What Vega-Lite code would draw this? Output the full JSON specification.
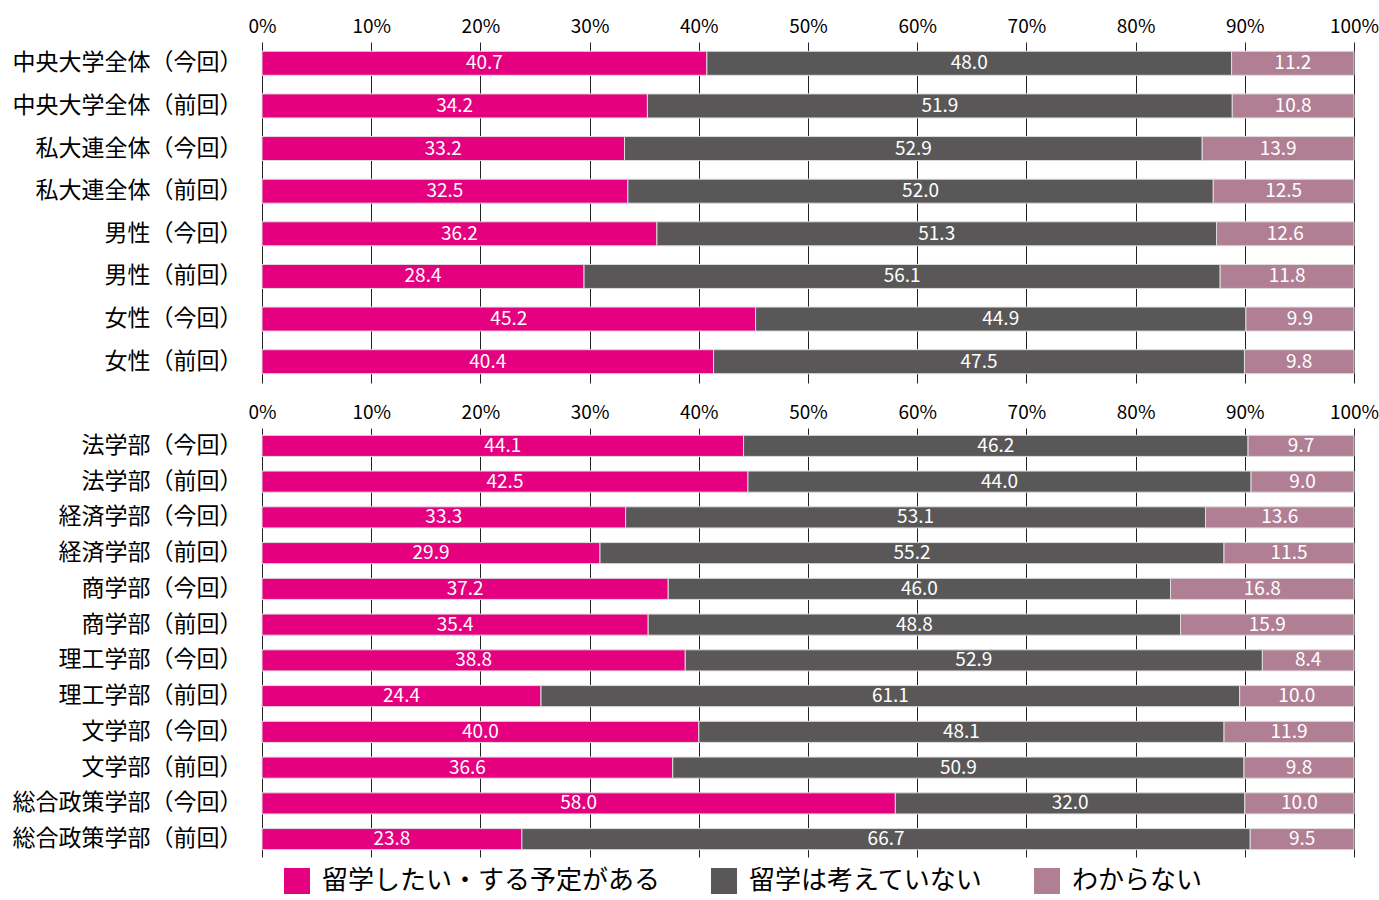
{
  "$schema": "https://vega.github.io/schema/vega-lite/v6.json",
  "background": "white",
  "padding": {"left": 12, "top": 17, "right": 2, "bottom": 0},
  "spacing": 20,
  "config": {
    "view": {"stroke": null},
    "font": "Noto Sans CJK JP",
    "axisX": {
      "orient": "top",
      "format": "%",
      "title": null,
      "grid": true,
      "gridColor": "#222222",
      "gridWidth": 1,
      "domain": false,
      "ticks": false,
      "labelPadding": 6,
      "labelFontSize": 19,
      "labelColor": "#000000",
      "labelFlush": false
    },
    "axisY": {
      "title": null,
      "grid": false,
      "domain": false,
      "ticks": false,
      "labelPadding": 20,
      "labelFontSize": 23,
      "labelColor": "#000000",
      "labelLimit": 400
    },
    "legend": {
      "orient": "none",
      "legendX": 22,
      "legendY": 826,
      "padding": 0,
      "direction": "horizontal",
      "symbolType": "square",
      "symbolSize": 676,
      "symbolStrokeWidth": 0,
      "labelFontSize": 26,
      "labelColor": "#000000",
      "labelOffset": 12,
      "columnPadding": 50,
      "labelLimit": 500,
      "title": null
    }
  },
  "resolve": {"scale": {"y": "independent"}},
  "data": {
    "values": [
      {"panel": "A", "cat": "中央大学全体（今回）", "resp": "留学したい・する予定がある", "order": 1, "value": 40.7},
      {"panel": "A", "cat": "中央大学全体（今回）", "resp": "留学は考えていない", "order": 2, "value": 48.0},
      {"panel": "A", "cat": "中央大学全体（今回）", "resp": "わからない", "order": 3, "value": 11.2},
      {"panel": "A", "cat": "中央大学全体（前回）", "resp": "留学したい・する予定がある", "order": 1, "value": 34.2},
      {"panel": "A", "cat": "中央大学全体（前回）", "resp": "留学は考えていない", "order": 2, "value": 51.9},
      {"panel": "A", "cat": "中央大学全体（前回）", "resp": "わからない", "order": 3, "value": 10.8},
      {"panel": "A", "cat": "私大連全体（今回）", "resp": "留学したい・する予定がある", "order": 1, "value": 33.2},
      {"panel": "A", "cat": "私大連全体（今回）", "resp": "留学は考えていない", "order": 2, "value": 52.9},
      {"panel": "A", "cat": "私大連全体（今回）", "resp": "わからない", "order": 3, "value": 13.9},
      {"panel": "A", "cat": "私大連全体（前回）", "resp": "留学したい・する予定がある", "order": 1, "value": 32.5},
      {"panel": "A", "cat": "私大連全体（前回）", "resp": "留学は考えていない", "order": 2, "value": 52.0},
      {"panel": "A", "cat": "私大連全体（前回）", "resp": "わからない", "order": 3, "value": 12.5},
      {"panel": "A", "cat": "男性（今回）", "resp": "留学したい・する予定がある", "order": 1, "value": 36.2},
      {"panel": "A", "cat": "男性（今回）", "resp": "留学は考えていない", "order": 2, "value": 51.3},
      {"panel": "A", "cat": "男性（今回）", "resp": "わからない", "order": 3, "value": 12.6},
      {"panel": "A", "cat": "男性（前回）", "resp": "留学したい・する予定がある", "order": 1, "value": 28.4},
      {"panel": "A", "cat": "男性（前回）", "resp": "留学は考えていない", "order": 2, "value": 56.1},
      {"panel": "A", "cat": "男性（前回）", "resp": "わからない", "order": 3, "value": 11.8},
      {"panel": "A", "cat": "女性（今回）", "resp": "留学したい・する予定がある", "order": 1, "value": 45.2},
      {"panel": "A", "cat": "女性（今回）", "resp": "留学は考えていない", "order": 2, "value": 44.9},
      {"panel": "A", "cat": "女性（今回）", "resp": "わからない", "order": 3, "value": 9.9},
      {"panel": "A", "cat": "女性（前回）", "resp": "留学したい・する予定がある", "order": 1, "value": 40.4},
      {"panel": "A", "cat": "女性（前回）", "resp": "留学は考えていない", "order": 2, "value": 47.5},
      {"panel": "A", "cat": "女性（前回）", "resp": "わからない", "order": 3, "value": 9.8},
      {"panel": "B", "cat": "法学部（今回）", "resp": "留学したい・する予定がある", "order": 1, "value": 44.1},
      {"panel": "B", "cat": "法学部（今回）", "resp": "留学は考えていない", "order": 2, "value": 46.2},
      {"panel": "B", "cat": "法学部（今回）", "resp": "わからない", "order": 3, "value": 9.7},
      {"panel": "B", "cat": "法学部（前回）", "resp": "留学したい・する予定がある", "order": 1, "value": 42.5},
      {"panel": "B", "cat": "法学部（前回）", "resp": "留学は考えていない", "order": 2, "value": 44.0},
      {"panel": "B", "cat": "法学部（前回）", "resp": "わからない", "order": 3, "value": 9.0},
      {"panel": "B", "cat": "経済学部（今回）", "resp": "留学したい・する予定がある", "order": 1, "value": 33.3},
      {"panel": "B", "cat": "経済学部（今回）", "resp": "留学は考えていない", "order": 2, "value": 53.1},
      {"panel": "B", "cat": "経済学部（今回）", "resp": "わからない", "order": 3, "value": 13.6},
      {"panel": "B", "cat": "経済学部（前回）", "resp": "留学したい・する予定がある", "order": 1, "value": 29.9},
      {"panel": "B", "cat": "経済学部（前回）", "resp": "留学は考えていない", "order": 2, "value": 55.2},
      {"panel": "B", "cat": "経済学部（前回）", "resp": "わからない", "order": 3, "value": 11.5},
      {"panel": "B", "cat": "商学部（今回）", "resp": "留学したい・する予定がある", "order": 1, "value": 37.2},
      {"panel": "B", "cat": "商学部（今回）", "resp": "留学は考えていない", "order": 2, "value": 46.0},
      {"panel": "B", "cat": "商学部（今回）", "resp": "わからない", "order": 3, "value": 16.8},
      {"panel": "B", "cat": "商学部（前回）", "resp": "留学したい・する予定がある", "order": 1, "value": 35.4},
      {"panel": "B", "cat": "商学部（前回）", "resp": "留学は考えていない", "order": 2, "value": 48.8},
      {"panel": "B", "cat": "商学部（前回）", "resp": "わからない", "order": 3, "value": 15.9},
      {"panel": "B", "cat": "理工学部（今回）", "resp": "留学したい・する予定がある", "order": 1, "value": 38.8},
      {"panel": "B", "cat": "理工学部（今回）", "resp": "留学は考えていない", "order": 2, "value": 52.9},
      {"panel": "B", "cat": "理工学部（今回）", "resp": "わからない", "order": 3, "value": 8.4},
      {"panel": "B", "cat": "理工学部（前回）", "resp": "留学したい・する予定がある", "order": 1, "value": 24.4},
      {"panel": "B", "cat": "理工学部（前回）", "resp": "留学は考えていない", "order": 2, "value": 61.1},
      {"panel": "B", "cat": "理工学部（前回）", "resp": "わからない", "order": 3, "value": 10.0},
      {"panel": "B", "cat": "文学部（今回）", "resp": "留学したい・する予定がある", "order": 1, "value": 40.0},
      {"panel": "B", "cat": "文学部（今回）", "resp": "留学は考えていない", "order": 2, "value": 48.1},
      {"panel": "B", "cat": "文学部（今回）", "resp": "わからない", "order": 3, "value": 11.9},
      {"panel": "B", "cat": "文学部（前回）", "resp": "留学したい・する予定がある", "order": 1, "value": 36.6},
      {"panel": "B", "cat": "文学部（前回）", "resp": "留学は考えていない", "order": 2, "value": 50.9},
      {"panel": "B", "cat": "文学部（前回）", "resp": "わからない", "order": 3, "value": 9.8},
      {"panel": "B", "cat": "総合政策学部（今回）", "resp": "留学したい・する予定がある", "order": 1, "value": 58.0},
      {"panel": "B", "cat": "総合政策学部（今回）", "resp": "留学は考えていない", "order": 2, "value": 32.0},
      {"panel": "B", "cat": "総合政策学部（今回）", "resp": "わからない", "order": 3, "value": 10.0},
      {"panel": "B", "cat": "総合政策学部（前回）", "resp": "留学したい・する予定がある", "order": 1, "value": 23.8},
      {"panel": "B", "cat": "総合政策学部（前回）", "resp": "留学は考えていない", "order": 2, "value": 66.7},
      {"panel": "B", "cat": "総合政策学部（前回）", "resp": "わからない", "order": 3, "value": 9.5}
    ]
  },
  "vconcat": [
    {
      "width": 1092,
      "height": 341,
      "transform": [
        {"filter": {"field": "panel", "equal": "A"}},
        {"stack": "value", "groupby": ["cat"], "sort": [{"field": "order", "order": "ascending"}], "offset": "normalize", "as": ["x0", "x1"]}
      ],
      "layer": [
        {
          "mark": {"type": "bar", "stroke": "#dddddd", "strokeWidth": 1},
          "encoding": {
            "x": {"field": "x0", "type": "quantitative", "scale": {"domain": [0, 1]}, "axis": {"values": [0, 0.1, 0.2, 0.3, 0.4, 0.5, 0.6, 0.7, 0.8, 0.9, 1]}},
            "x2": {"field": "x1"},
            "y": {"field": "cat", "type": "nominal", "sort": ["中央大学全体（今回）", "中央大学全体（前回）", "私大連全体（今回）", "私大連全体（前回）", "男性（今回）", "男性（前回）", "女性（今回）", "女性（前回）"], "scale": {"paddingInner": 0.437, "paddingOuter": 0.218}},
            "color": {"field": "resp", "type": "nominal", "scale": {"domain": ["留学したい・する予定がある", "留学は考えていない", "わからない"], "range": ["#E4007F", "#595757", "#B07F94"]}}
          }
        },
        {
          "transform": [{"calculate": "(datum.x0 + datum.x1) / 2", "as": "xm"}],
          "mark": {"type": "text", "color": "white", "fontSize": 19},
          "encoding": {
            "x": {"field": "xm", "type": "quantitative"},
            "y": {"field": "cat", "type": "nominal", "sort": ["中央大学全体（今回）", "中央大学全体（前回）", "私大連全体（今回）", "私大連全体（前回）", "男性（今回）", "男性（前回）", "女性（今回）", "女性（前回）"]},
            "text": {"field": "value", "type": "quantitative", "format": ".1f"}
          }
        }
      ]
    },
    {
      "width": 1092,
      "height": 429,
      "transform": [
        {"filter": {"field": "panel", "equal": "B"}},
        {"stack": "value", "groupby": ["cat"], "sort": [{"field": "order", "order": "ascending"}], "offset": "normalize", "as": ["x0", "x1"]}
      ],
      "layer": [
        {
          "mark": {"type": "bar", "stroke": "#dddddd", "strokeWidth": 1},
          "encoding": {
            "x": {"field": "x0", "type": "quantitative", "scale": {"domain": [0, 1]}, "axis": {"values": [0, 0.1, 0.2, 0.3, 0.4, 0.5, 0.6, 0.7, 0.8, 0.9, 1]}},
            "x2": {"field": "x1"},
            "y": {"field": "cat", "type": "nominal", "sort": ["法学部（今回）", "法学部（前回）", "経済学部（今回）", "経済学部（前回）", "商学部（今回）", "商学部（前回）", "理工学部（今回）", "理工学部（前回）", "文学部（今回）", "文学部（前回）", "総合政策学部（今回）", "総合政策学部（前回）"], "scale": {"paddingInner": 0.41, "paddingOuter": 0.205}},
            "color": {"field": "resp", "type": "nominal", "scale": {"domain": ["留学したい・する予定がある", "留学は考えていない", "わからない"], "range": ["#E4007F", "#595757", "#B07F94"]}}
          }
        },
        {
          "transform": [{"calculate": "(datum.x0 + datum.x1) / 2", "as": "xm"}],
          "mark": {"type": "text", "color": "white", "fontSize": 19},
          "encoding": {
            "x": {"field": "xm", "type": "quantitative"},
            "y": {"field": "cat", "type": "nominal", "sort": ["法学部（今回）", "法学部（前回）", "経済学部（今回）", "経済学部（前回）", "商学部（今回）", "商学部（前回）", "理工学部（今回）", "理工学部（前回）", "文学部（今回）", "文学部（前回）", "総合政策学部（今回）", "総合政策学部（前回）"]},
            "text": {"field": "value", "type": "quantitative", "format": ".1f"}
          }
        }
      ]
    }
  ]
}
